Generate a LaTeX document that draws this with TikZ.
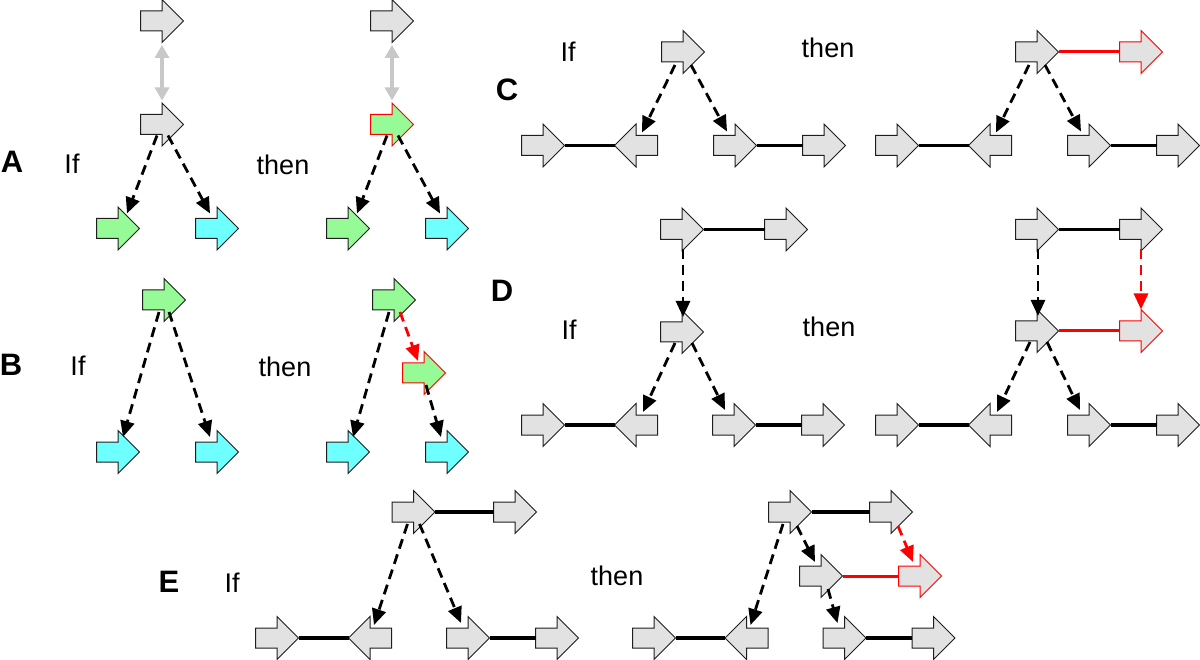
\documentclass[tikz,border=0pt]{standalone}
\usepackage{fontspec}
\setmainfont{Liberation Sans}
\usetikzlibrary{arrows.meta,calc}
\definecolor{garr}{RGB}{226,226,226}
\definecolor{lgreen}{RGB}{150,250,150}
\definecolor{lcyan}{RGB}{110,255,255}
\definecolor{dgray}{RGB}{200,200,200}
\definecolor{edge}{RGB}{30,30,30}
\tikzset{
 arrR/.style n args={2}{rectangle, minimum size=45pt, inner sep=0pt, outer sep=0pt,
   path picture={\draw[fill=#1, draw=#2, line width=1pt, line join=miter]
     ($(path picture bounding box.center)+(-21.5,-10)$) -- ++(21.5,0) -- ++(0,-11.5)
     -- ++(21.5,21.5) -- ++(-21.5,21.5) -- ++(0,-11.5) -- ++(-21.5,0) -- cycle;}},
 arrL/.style n args={2}{rectangle, minimum size=45pt, inner sep=0pt, outer sep=0pt,
   path picture={\draw[fill=#1, draw=#2, line width=1pt, line join=miter]
     ($(path picture bounding box.center)+(21.5,-10)$) -- ++(-21.5,0) -- ++(0,-11.5)
     -- ++(-21.5,21.5) -- ++(21.5,21.5) -- ++(0,-11.5) -- ++(21.5,0) -- cycle;}}
}
\begin{document}
\begin{tikzpicture}[x=1pt,y=-1pt,
 blk/.style={arrR={garr}{edge}},
 lft/.style={arrL={garr}{edge}},
 grn/.style={arrR={lgreen}{edge}},
 grnr/.style={arrR={lgreen}{red}},
 blkr/.style={arrR={garr}{red}},
 cyn/.style={arrR={lcyan}{edge}},
 dsh/.style={line width=2.8pt, dash pattern=on 10pt off 6pt, -{Triangle[length=16pt,width=14pt]}},
 rdsh/.style={dsh, color=red},
 con/.style={line width=3.5pt},
 rcon/.style={line width=3pt, red},
 dbl/.style={line width=4pt, dgray, {Triangle[length=13pt,width=14pt]}-{Triangle[length=13pt,width=14pt]}},
 lbl/.style={font=\fontsize{27}{31}\selectfont, anchor=base},
 plbl/.style={font=\fontsize{31}{36}\selectfont\bfseries, anchor=base}
]
\useasboundingbox (0,0) rectangle (1200,660);

% ---------- A ----------
\node[plbl] (lA) at (12,173) {A};
\node[lbl] (ifA) at (72,174) {If};
\node[lbl] (thA) at (283,175) {then};
\node[blk] (a1) at (162,21) {};
\node[blk] (a2) at (162,124.5) {};
\node[grn] (a3) at (118,228.5) {};
\node[cyn] (a4) at (217,228.5) {};
\draw[dbl] ($(a1)+(0,24)$) -- ($(a2)+(0,-24)$);
\draw[dsh] ($(a2)+(-5,11)$) -- ($(a3)+(9,-15)$);
\draw[dsh] ($(a2)+(6,11)$) -- ($(a4)+(-7,-15)$);

\node[blk] (A1) at (392,21) {};
\node[grnr] (A2) at (392,124.5) {};
\node[grn] (A3) at (348,228.5) {};
\node[cyn] (A4) at (447,228.5) {};
\draw[dbl] ($(A1)+(0,24)$) -- ($(A2)+(0,-24)$);
\draw[dsh] ($(A2)+(-5,11)$) -- ($(A3)+(9,-15)$);
\draw[dsh] ($(A2)+(6,11)$) -- ($(A4)+(-7,-15)$);

% ---------- B ----------
\node[plbl] (lB) at (11,376) {B};
\node[lbl] (ifB) at (78,376) {If};
\node[lbl] (thB) at (285,377) {then};
\node[grn] (b1) at (164,300) {};
\node[cyn] (b2) at (118,452) {};
\node[cyn] (b3) at (217,452) {};
\draw[dsh] ($(b1)+(-5,12)$) -- ($(b2)+(5,-15)$);
\draw[dsh] ($(b1)+(5,12)$) -- ($(b3)+(-7,-15)$);

\node[grn] (B1) at (394,300) {};
\node[grnr] (B2) at (424,373) {};
\node[cyn] (B3) at (348,452) {};
\node[cyn] (B4) at (447,452) {};
\draw[dsh] ($(B1)+(-5,12)$) -- ($(B3)+(5,-15)$);
\draw[rdsh] ($(B1)+(6,12)$) -- ($(B2)+(-6,-12)$);
\draw[dsh] ($(B2)+(2,12)$) -- ($(B4)+(-6,-15)$);

% ---------- C ----------
\node[plbl] (lC) at (507,101) {C};
\node[lbl] (ifC) at (568,62) {If};
\node[lbl] (thC) at (828,58) {then};
\node[blk] (c1) at (683,52) {};
\node[blk] (c2) at (543,145.5) {};
\node[lft] (c3) at (636,145.5) {};
\node[blk] (c4) at (735,145.5) {};
\node[blk] (c5) at (824,145.5) {};
\draw[con] ([xshift=-1pt]c2.east) -- ([xshift=1pt]c3.west);
\draw[con] ([xshift=-1pt]c4.east) -- ([xshift=1pt]c5.west);
\draw[dsh] ($(c1)+(-8,13)$) -- ($(c3)+(6,-13)$);
\draw[dsh] ($(c1)+(8,13)$) -- ($(c4)+(-8,-14)$);

\node[blk] (C1) at (1037,52) {};
\node[blkr] (C6) at (1141,52) {};
\node[blk] (C2) at (897,145.5) {};
\node[lft] (C3) at (990,145.5) {};
\node[blk] (C4) at (1089,145.5) {};
\node[blk] (C5) at (1178,145.5) {};
\draw[rcon] ([xshift=-1pt]C1.east) -- ([xshift=1pt]C6.west);
\draw[con] ([xshift=-1pt]C2.east) -- ([xshift=1pt]C3.west);
\draw[con] ([xshift=-1pt]C4.east) -- ([xshift=1pt]C5.west);
\draw[dsh] ($(C1)+(-8,13)$) -- ($(C3)+(6,-13)$);
\draw[dsh] ($(C1)+(8,13)$) -- ($(C4)+(-8,-14)$);

% ---------- D ----------
\node[plbl] (lD) at (502,302) {D};
\node[lbl] (ifD) at (569,340) {If};
\node[lbl] (thD) at (829,337) {then};
\node[blk] (d1) at (682,229.5) {};
\node[blk] (d2) at (786,229.5) {};
\node[blk] (d3) at (682,332) {};
\node[blk] (d4) at (543,425) {};
\node[lft] (d5) at (636,425) {};
\node[blk] (d6) at (734,425) {};
\node[blk] (d7) at (823,425) {};
\draw[con] ([xshift=-1pt]d1.east) -- ([xshift=1pt]d2.west);
\draw[con] ([xshift=-1pt]d4.east) -- ([xshift=1pt]d5.west);
\draw[con] ([xshift=-1pt]d6.east) -- ([xshift=1pt]d7.west);
\draw[dsh] ($(d1)+(1,20)$) -- ($(d3)+(1,-15)$);
\draw[dsh] ($(d3)+(-7,11)$) -- ($(d5)+(7,-13)$);
\draw[dsh] ($(d3)+(10,11)$) -- ($(d6)+(-9,-15)$);

\node[blk] (D1) at (1037,229.5) {};
\node[blk] (D2) at (1141,229.5) {};
\node[blk] (D3) at (1037,331) {};
\node[blkr] (D8) at (1141,331) {};
\node[blk] (D4) at (897,425) {};
\node[lft] (D5) at (990,425) {};
\node[blk] (D6) at (1089,425) {};
\node[blk] (D7) at (1178,425) {};
\draw[con] ([xshift=-1pt]D1.east) -- ([xshift=1pt]D2.west);
\draw[rcon] ([xshift=-1pt]D3.east) -- ([xshift=1pt]D8.west);
\draw[con] ([xshift=-1pt]D4.east) -- ([xshift=1pt]D5.west);
\draw[con] ([xshift=-1pt]D6.east) -- ([xshift=1pt]D7.west);
\draw[dsh] ($(D1)+(1,20)$) -- ($(D3)+(1,-15)$);
\draw[rdsh] ($(D2)+(0,20)$) -- ($(D8)+(0,-21.5)$);
\draw[dsh] ($(D3)+(-7,11)$) -- ($(D5)+(7,-13)$);
\draw[dsh] ($(D3)+(10,11)$) -- ($(D6)+(-9,-15)$);

% ---------- E ----------
\node[plbl] (lE) at (169,592) {E};
\node[lbl] (ifE) at (232,592) {If};
\node[lbl] (thE) at (617,585) {then};
\node[blk] (e1) at (413.5,512) {};
\node[blk] (e2) at (515,512) {};
\node[blk] (e3) at (277,638) {};
\node[lft] (e4) at (370,638) {};
\node[blk] (e5) at (468,638) {};
\node[blk] (e6) at (557,638) {};
\draw[con] ([xshift=-1pt]e1.east) -- ([xshift=1pt]e2.west);
\draw[con] ([xshift=-1pt]e3.east) -- ([xshift=1pt]e4.west);
\draw[con] ([xshift=-1pt]e5.east) -- ([xshift=1pt]e6.west);
\draw[dsh] ($(e1)+(-6,12)$) -- ($(e4)+(4,-13)$);
\draw[dsh] ($(e1)+(6,12)$) -- ($(e5)+(-7,-15)$);

\node[blk] (E1) at (790,512) {};
\node[blk] (E2) at (891,512) {};
\node[blk] (E7) at (821,576) {};
\node[blkr] (E8) at (920,576) {};
\node[blk] (E3) at (654,638) {};
\node[lft] (E4) at (746.5,638) {};
\node[blk] (E5) at (844.5,638) {};
\node[blk] (E6) at (933.5,638) {};
\draw[con] ([xshift=-1pt]E1.east) -- ([xshift=1pt]E2.west);
\draw[rcon] ([xshift=-1pt]E7.east) -- ([xshift=1pt]E8.west);
\draw[con] ([xshift=-1pt]E3.east) -- ([xshift=1pt]E4.west);
\draw[con] ([xshift=-1pt]E5.east) -- ([xshift=1pt]E6.west);
\draw[dsh] ($(E1)+(-7,12)$) -- ($(E4)+(4,-13)$);
\draw[dsh] ($(E1)+(7,14)$) -- ($(E7)+(-6,-14)$);
\draw[rdsh] ($(E2)+(7,14)$) -- ($(E8)+(-7,-14)$);
\draw[dsh] ($(E7)+(7,13)$) -- ($(E5)+(-7,-15)$);
\end{tikzpicture}
\end{document}
